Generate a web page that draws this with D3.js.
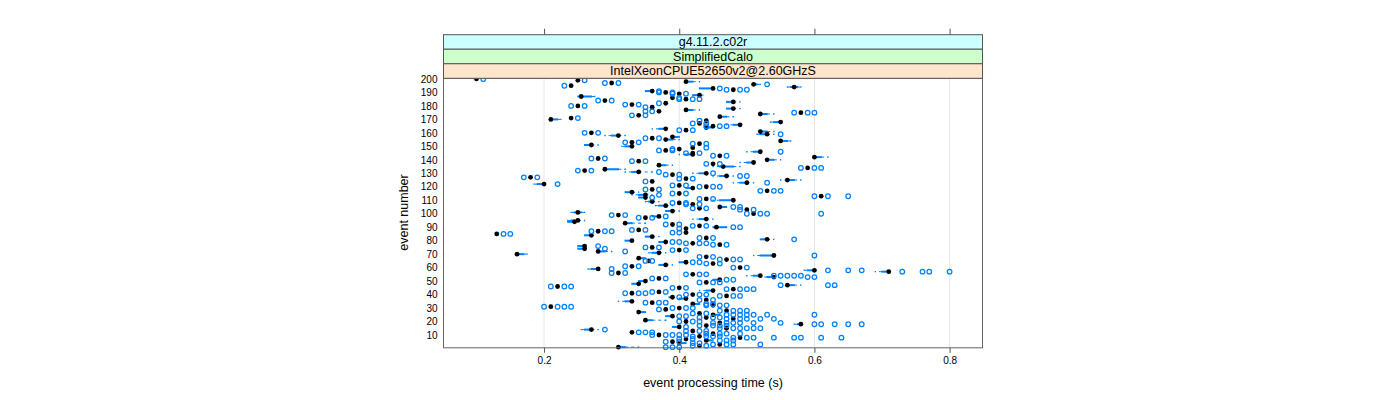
<!DOCTYPE html>
<html><head><meta charset="utf-8">
<script src="https://cdn.jsdelivr.net/npm/d3@7"></script>
<style>body{margin:0;background:#fff} text{font-family:"Liberation Sans",Arial,Helvetica,sans-serif;fill:#000}</style>
</head><body><svg id="c" width="1400" height="400"></svg>
<script>
// strip labels (outer to inner)
const stripLabels = ["g4.11.2.c02r", "SimplifiedCalo", "IntelXeonCPUE52650v2@2.60GHzS"];
const stripColors = ["#ccffff", "#ccffcc", "#ffe5cc"];
const xTicks = [0.2, 0.4, 0.6, 0.8];
const yTicks = [10,20,30,40,50,60,70,80,90,100,110,120,130,140,150,160,170,180,190,200];
const xTitle = "event processing time (s)";
const yTitle = "event number";

// median event processing time for events 1..200
const medians = [
 .31,.43,.46,.40,.39,.44,.41,.49,.43,.37,
 .45,.33,.42,.27,.47,.40,.44,.58,.46,.41,
 .35,.48,.44,.39,.45,.43,.34,.47,.38,.40,
 .21,.45,.42,.36,.33,.44,.41,.39,.47,.42,
 .33,.37,.45,.48,.40,.22,.56,.34,.44,.35,
 .46,.37,.54,.52,.42,.31,.71,.60,.28,.49,
 .33,.38,.45,.41,.355,.47,.34,.44,.54,.16,
 .37,.28,.40,.26,.36,.26,.46,.42,.38,.33,
 .53,.44,.36,.27,.13,.41,.28,.34,.41,.455,
 .43,.39,.32,.245,.25,.44,.35,.37,.31,.51,
 .25,.39,.50,.43,.46,.38,.42,.40,.36,.48,
 .44,.35,.61,.35,.40,.33,.53,.36,.42,.44,
 .40,.20,.50,.36,.56,.41,.18,.47,.39,.44,
 .34,.26,.29,.59,.465,.37,.45,.51,.34,.53,
 .28,.60,.46,.42,.42,.52,.38,.40,.42,.33,
 .27,.43,.33,.55,.38,.36,.39,.31,.53,.27,
 .52,.41,.38,.44,.45,.49,.43,.55,.44,.21,
 .24,.46,.34,.52,.58,.37,.41,.48,.36,.25,
 .33,.38,.48,.29,.41,.39,.255,.43,.40,.38,
 .36,.48,.45,.57,.24,.51,.30,.41,.25,.10
];

// events with a visible box: box (q1,q3) and whisker ends
const boxEvents = [1,4,6,14,16,18,21,24,25,27,33,35,37,38,43,47,48,50,51,53,54,57,58,59,62,64,67,69,70,71,72,74,76,79,80,81,83,84,90,93,94,95,96,98,101,102,105,106,109,110,112,114,116,119,122,123,125,128,130,131,133,135,136,138,140,142,144,146,150,151,154,155,157,158,159,161,163,164,166,168,170,172,174,177,178,183,187,188,191,193,194,196,198];
const boxLow =    [.31,.40,.44,.26,.39,.575,.35,.38,.45,.34,.42,.32,.40,.385,.44,.56,.33,.34,.45,.53,.51,.70,.59,.27,.37,.40,.34,.52,.16,.36,.28,.25,.25,.37,.32,.52,.35,.26,.45,.32,.235,.24,.43,.36,.245,.38,.46,.37,.355,.46,.34,.34,.32,.41,.19,.49,.56,.46,.43,.33,.29,.46,.37,.50,.53,.60,.41,.51,.32,.26,.55,.38,.39,.30,.52,.52,.37,.44,.48,.54,.21,.46,.52,.41,.47,.47,.25,.42,.35,.43,.565,.51,.41];
const boxHigh =   [.32,.41,.45,.27,.40,.58,.36,.39,.46,.35,.43,.33,.41,.39,.45,.57,.34,.35,.46,.54,.52,.71,.60,.28,.38,.41,.35,.54,.17,.37,.29,.26,.26,.38,.33,.53,.36,.27,.47,.33,.245,.25,.44,.37,.255,.39,.47,.38,.36,.48,.35,.35,.33,.42,.20,.50,.57,.47,.44,.34,.31,.48,.38,.51,.54,.61,.42,.52,.33,.27,.56,.39,.40,.31,.53,.53,.38,.45,.49,.55,.22,.47,.53,.42,.48,.48,.27,.43,.36,.45,.575,.515,.42];
const whiskerLow =  [.31,.40,.44,.255,.39,.57,.35,.38,.45,.34,.42,.31,.40,.385,.43,.56,.33,.34,.45,.52,.50,.69,.585,.265,.37,.40,.34,.51,.16,.355,.28,.25,.25,.37,.32,.52,.35,.26,.45,.32,.235,.235,.42,.36,.24,.38,.46,.365,.35,.45,.34,.33,.32,.41,.185,.48,.55,.45,.42,.32,.29,.45,.37,.49,.53,.60,.40,.50,.315,.26,.55,.38,.39,.29,.515,.52,.36,.44,.47,.535,.21,.46,.52,.41,.47,.47,.25,.42,.35,.43,.56,.51,.41];
const whiskerHigh = [.34,.41,.45,.28,.40,.58,.38,.39,.46,.35,.43,.33,.41,.39,.45,.58,.34,.35,.46,.54,.52,.71,.60,.28,.39,.41,.35,.54,.175,.38,.30,.26,.26,.38,.33,.54,.37,.27,.47,.35,.245,.26,.45,.37,.26,.40,.47,.39,.37,.48,.35,.36,.34,.42,.20,.51,.58,.48,.44,.36,.32,.49,.39,.51,.55,.62,.42,.52,.33,.28,.565,.40,.40,.32,.54,.54,.38,.45,.49,.55,.225,.48,.54,.43,.49,.49,.275,.435,.36,.45,.58,.52,.43];

// outlying runs for events 1..200
const outliers = [
 [.38,.39,.40],[.42,.44],[.45,.47,.48,.52],[.42,.43],[.38,.40],[.46,.47,.48],[.40,.42],[.48,.50,.51,.54,.57,.58,.61,.64],[.42,.44,.45,.46],[.36,.38,.39,.40,.41],
 [.44,.46,.47,.49],[.34,.35,.36],[.41,.43,.44],[.29],[.46,.48,.49,.50,.51,.52],[.41],[.43,.45,.46,.47],[.60,.61,.63,.65,.67],[.45,.47,.48,.49,.51,.55],[.40,.42,.43],
 [],[.47,.49,.50,.52,.54],[.43,.45,.46],[.40,.41],[.47,.48,.49,.50,.51,.53,.60],[.42,.44],[],[.46,.48,.49,.50],[.37],[.39,.41,.42],
 [.20,.22,.23,.24],[.44,.46,.47],[.44,.45],[.35,.37,.38],[],[.43,.45],[],[.40],[.46,.48,.49],[.41,.43,.44],
 [.32,.34,.35],[.36,.38],[],[.47,.49,.50,.51],[.39,.41],[.21,.23,.24],[.55,.62,.63],[],[.43,.45,.46],[],
 [.47,.48],[.36,.38],[.59,.60],[.54,.55,.56,.57,.58],[.41,.43,.44],[.30,.32],[.73,.76,.77,.80],[.62,.65,.67],[.30],[.48,.50],
 [.32,.34],[],[.44,.46],[.42,.43],[.35,.36],[.46,.48,.49],[],[.43,.45],[.60],[],
 [],[.32],[.39,.41],[.29],[.35,.37],[.28],[.45,.47],[.41,.43,.44],[.39,.40],[],
 [.57],[.43,.45],[],[],[.14,.15],[.39,.40],[.27,.29,.30],[.33,.35],[.40],[.48,.49],
 [.42,.44],[.38,.40],[],[],[],[],[.34,.36],[.38],[.30,.32],[.50,.52,.53,.61],
 [],[],[.49,.51],[.42,.44],[.48,.49],[],[.41,.43],[.39,.41],[],[],
 [.43,.45],[.36],[.60,.62,.65],[.37],[.39,.41],[],[.52,.54,.55],[.35,.37],[],[.43,.45,.46],
 [.39,.41],[.22],[.53],[.35],[],[.40,.42],[.17,.19],[.49,.50],[.38,.40],[.45],
 [.37],[.25,.27],[],[.58,.60,.61],[],[],[.44,.46],[],[.33,.35],[],
 [.27,.29],[],[.45,.47],[],[.41,.43],[.55],[.37,.39],[.39],[.44],[],
 [],[.42,.44],[.32,.34],[],[],[.35,.37],[],[],[.55],[.26,.28],
 [],[.40,.42],[],[],[.44,.46,.47],[],[.42,.44],[],[.43],[],
 [.25],[],[.33,.35],[],[.57,.59,.60],[.35,.36],[],[],[.35],[.24,.26],
 [.32,.34],[.37],[],[.28,.30],[.40,.42,.43],[.40],[],[],[.39,.41],[.37,.39],
 [.37],[.47,.49,.50],[.46],[],[.23],[.53],[.29,.31],[],[.26],[.11]
];

const svg = d3.select("#c");
const L = 443.5, R = 982.5, T = 78.3, B = 347.8;
const x = d3.scaleLinear().domain([0.0512, 0.8487]).range([L, R]);
const y = d3.scaleLinear().domain([0.5, 200.5]).range([B, T]);
const blue = "#0080ff";
const rowH = Math.abs(y(1) - y(0));
const boxH = rowH * 0.6;

// grid
svg.append("g").selectAll("line").data(xTicks).join("line")
  .attr("x1", d => x(d)).attr("x2", d => x(d)).attr("y1", T).attr("y2", B)
  .attr("stroke", "#e6e6e6").attr("stroke-width", 1);

const plot = svg.append("g");
const boxes = boxEvents.map((e, i) => ({e, lo: boxLow[i], hi: boxHigh[i], wl: whiskerLow[i], wh: whiskerHigh[i]}));

// boxes
plot.append("g").selectAll("rect").data(boxes).join("rect")
  .attr("x", d => x(d.lo)).attr("width", d => Math.max(0, x(d.hi) - x(d.lo)))
  .attr("y", d => y(d.e) - boxH / 2).attr("height", boxH)
  .attr("fill", "none").attr("stroke", blue).attr("stroke-width", 1.2);

// whiskers (dashed)
const wsegs = [];
boxes.forEach(d => {
  if (d.wl < d.lo) wsegs.push({e: d.e, a: d.lo, b: d.wl});
  if (d.wh > d.hi) wsegs.push({e: d.e, a: d.hi, b: d.wh});
});
plot.append("g").selectAll("line").data(wsegs).join("line")
  .attr("x1", d => x(d.a)).attr("x2", d => x(d.b))
  .attr("y1", d => y(d.e)).attr("y2", d => y(d.e))
  .attr("stroke", blue).attr("stroke-width", 1).attr("stroke-dasharray", "3,3");
plot.append("g").selectAll("line").data(wsegs).join("line")
  .attr("x1", d => x(d.b)).attr("x2", d => x(d.b))
  .attr("y1", d => y(d.e) - 0.7).attr("y2", d => y(d.e) + 0.7)
  .attr("stroke", blue).attr("stroke-width", 1.2);

// medians
plot.append("g").selectAll("circle").data(medians.map((m, i) => ({e: i + 1, m}))).join("circle")
  .attr("cx", d => x(d.m)).attr("cy", d => y(d.e)).attr("r", 2.4).attr("fill", "#000");

// outliers
const outs = [];
outliers.forEach((arr, i) => arr.forEach(v => outs.push({e: i + 1, v})));
plot.append("g").selectAll("circle").data(outs).join("circle")
  .attr("cx", d => x(d.v)).attr("cy", d => y(d.e)).attr("r", 2.3)
  .attr("fill", "none").attr("stroke", blue).attr("stroke-width", 1.25);

// panel border
svg.append("rect").attr("x", L).attr("y", T).attr("width", R - L).attr("height", B - T)
  .attr("fill", "none").attr("stroke", "#666").attr("stroke-width", 1);

// strips
const stripTop = 34.7, stripH = (T - stripTop) / 3;
stripLabels.forEach((s, i) => {
  const sy = stripTop + i * stripH;
  svg.append("rect").attr("x", L).attr("y", sy).attr("width", R - L).attr("height", stripH)
    .attr("fill", stripColors[i]).attr("stroke", "#555").attr("stroke-width", 1);
  svg.append("text").attr("x", (L + R) / 2).attr("y", sy + stripH / 2 + 4.3)
    .attr("text-anchor", "middle").attr("font-size", "12.5px").text(s);
});

// x axis bottom and top ticks
const axB = d3.axisBottom(x).tickValues(xTicks).tickSize(5).tickPadding(4).tickFormat(d3.format(".1f"));
const gB = svg.append("g").attr("transform", `translate(0,${B})`).call(axB);
gB.select(".domain").remove();
gB.selectAll("line").attr("stroke", "#555");
gB.selectAll("text").attr("font-size", "10px").attr("font-family", "Liberation Sans, Arial, sans-serif");
const axT = d3.axisTop(x).tickValues(xTicks).tickSize(6).tickFormat("");
const gT = svg.append("g").attr("transform", `translate(0,${stripTop})`).call(axT);
gT.select(".domain").remove();
gT.selectAll("line").attr("stroke", "#555");

// y axis labels
const axL = d3.axisLeft(y).tickValues(yTicks).tickSize(0).tickPadding(6);
const gL = svg.append("g").attr("transform", `translate(${L},0)`).call(axL);
gL.select(".domain").remove();
gL.selectAll("text").attr("font-size", "10px").attr("font-family", "Liberation Sans, Arial, sans-serif");

// titles
svg.append("text").attr("x", (L + R) / 2).attr("y", 387).attr("text-anchor", "middle")
  .attr("font-size", "12.5px").text(xTitle);
svg.append("text").attr("transform", `translate(407.5,212.5) rotate(-90)`).attr("text-anchor", "middle")
  .attr("font-size", "12.5px").text(yTitle);
</script></body></html>
